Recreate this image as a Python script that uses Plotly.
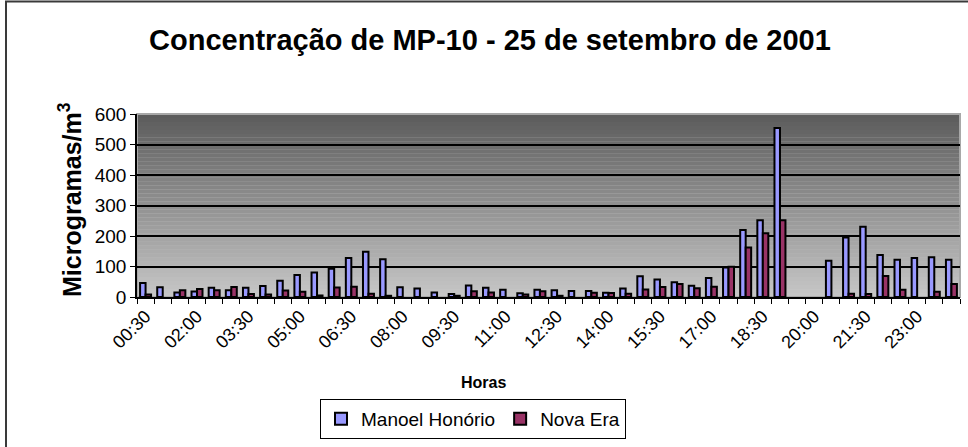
import plotly.graph_objects as go

# half-hour readings, 25 Sep 2001
horas = [
    "00:30", "01:00", "01:30", "02:00", "02:30", "03:00", "03:30", "04:00",
    "04:30", "05:00", "05:30", "06:00", "06:30", "07:00", "07:30", "08:00",
    "08:30", "09:00", "09:30", "10:00", "10:30", "11:00", "11:30", "12:00",
    "12:30", "13:00", "13:30", "14:00", "14:30", "15:00", "15:30", "16:00",
    "16:30", "17:00", "17:30", "18:00", "18:30", "19:00", "19:30", "20:00",
    "20:30", "21:00", "21:30", "22:00", "22:30", "23:00", "23:30", "24:00",
]

manoel_honorio = [
    46, 32, 15, 18, 30, 22, 30, 36,
    53, 72, 80, 93, 128, 148, 124, 32,
    28, 15, 10, 38, 30, 24, 12, 24,
    22, 20, 20, 14, 28, 68, 57, 48,
    37, 62, 97, 220, 252, 554, None, None,
    119, 195, 230, 138, 122, 128, 130, 122,
]

nova_era = [
    8, None, 22, 26, 22, 33, 10, 8,
    21, 17, 5, 31, 34, 11, 4, None,
    None, None, 4, 19, 15, None, 8, 19,
    4, None, 14, 13, 11, 25, 33, 43,
    29, 34, 99, 162, 209, 252, None, None,
    None, 11, 10, 69, 24, None, 17, 43,
]

# every third hour gets a label
tick_text = [h if i % 3 == 0 else "" for i, h in enumerate(horas)]

FONT = "Arial, Liberation Sans, sans-serif"

fig = go.Figure()

fig.add_trace(go.Bar(
    x=horas,
    y=manoel_honorio,
    name="Manoel Honório",
    marker=dict(color="#9999FF", line=dict(color="black", width=2)),
))

fig.add_trace(go.Bar(
    x=horas,
    y=nova_era,
    name="Nova Era",
    marker=dict(color="#993366", line=dict(color="black", width=2)),
))

# Excel-style grey gradient behind the bars
shapes = []
n_bands = 46
top_rgb = (92, 92, 92)
bottom_rgb = (198, 198, 198)
for i in range(n_bands):
    t = i / (n_bands - 1)
    c = [round(bottom_rgb[k] + (top_rgb[k] - bottom_rgb[k]) * t) for k in range(3)]
    shapes.append(dict(
        type="rect", xref="x domain", yref="y domain",
        x0=0, x1=1, y0=i / n_bands, y1=(i + 1) / n_bands,
        fillcolor=f"rgb({c[0]},{c[1]},{c[2]})",
        line=dict(width=0), layer="below",
    ))

shapes.append(dict(
    type="rect", xref="x domain", yref="y domain",
    x0=0, x1=1, y0=0, y1=1,
    line=dict(color="#a8a8a8", width=2), layer="below",
))

# outer chart frame (only left and top visible in the crop)
W, H = 968, 447
ML, MR, MT, MB = 137, 8, 114, 150
pw, ph = W - ML - MR, H - MT - MB


def px_x(x):
    return (x - ML) / pw


def px_y(y):
    return (H - MB - y) / ph


shapes.append(dict(
    type="rect", xref="paper", yref="paper",
    x0=px_x(6), x1=px_x(1100), y0=px_y(600), y1=px_y(1.5),
    line=dict(color="#3a3a3a", width=2),
))

fig.update_layout(
    width=W,
    height=H,
    margin=dict(l=ML, r=MR, t=MT, b=MB),
    paper_bgcolor="white",
    plot_bgcolor="#c0c0c0",
    font=dict(family=FONT, color="black"),
    title=dict(
        text="<b>Concentração de MP-10 - 25 de setembro de 2001</b>",
        font=dict(size=29, family=FONT, color="black"),
        x=490 / W, xanchor="center",
        y=1 - 40 / H, yanchor="middle", yref="container",
    ),
    barmode="group",
    bargap=0.36,
    bargroupgap=0,
    shapes=shapes,
    xaxis=dict(
        type="category",
        tickmode="array",
        tickvals=horas,
        ticktext=tick_text,
        tickangle=-45,
        tickson="boundaries",
        ticks="outside",
        ticklen=5,
        tickcolor="black",
        tickfont=dict(size=18, family=FONT),
        showline=True,
        linecolor="black",
        linewidth=1.5,
        showgrid=False,
    ),
    yaxis=dict(
        range=[0, 600],
        dtick=100,
        ticks="outside",
        ticklen=5,
        tickcolor="black",
        tickfont=dict(size=19, family=FONT),
        showline=True,
        linecolor="black",
        linewidth=1.5,
        showgrid=True,
        gridcolor="black",
        gridwidth=1.5,
        zeroline=False,
    ),
    legend=dict(
        orientation="h",
        x=px_x(473), xanchor="center",
        y=px_y(399), yanchor="top",
        bordercolor="black",
        borderwidth=1,
        bgcolor="white",
        font=dict(size=19, family=FONT),
        itemwidth=30,
        tracegroupgap=0,
    ),
    annotations=[
        dict(
            text="<b>Microgramas/m<sup>3</sup></b>",
            xref="paper", yref="paper",
            x=px_x(70), y=px_y(200),
            xanchor="center", yanchor="middle",
            textangle=-90, showarrow=False,
            font=dict(size=25, family=FONT),
        ),
        dict(
            text="<b>Horas</b>",
            xref="paper", yref="paper",
            x=px_x(483), y=px_y(382),
            xanchor="center", yanchor="middle",
            showarrow=False,
            font=dict(size=16, family=FONT),
        ),
    ],
)

fig.write_html(
    "out.html",
    config={"displayModeBar": False},
    post_script="document.body.style.margin='0';",
)
